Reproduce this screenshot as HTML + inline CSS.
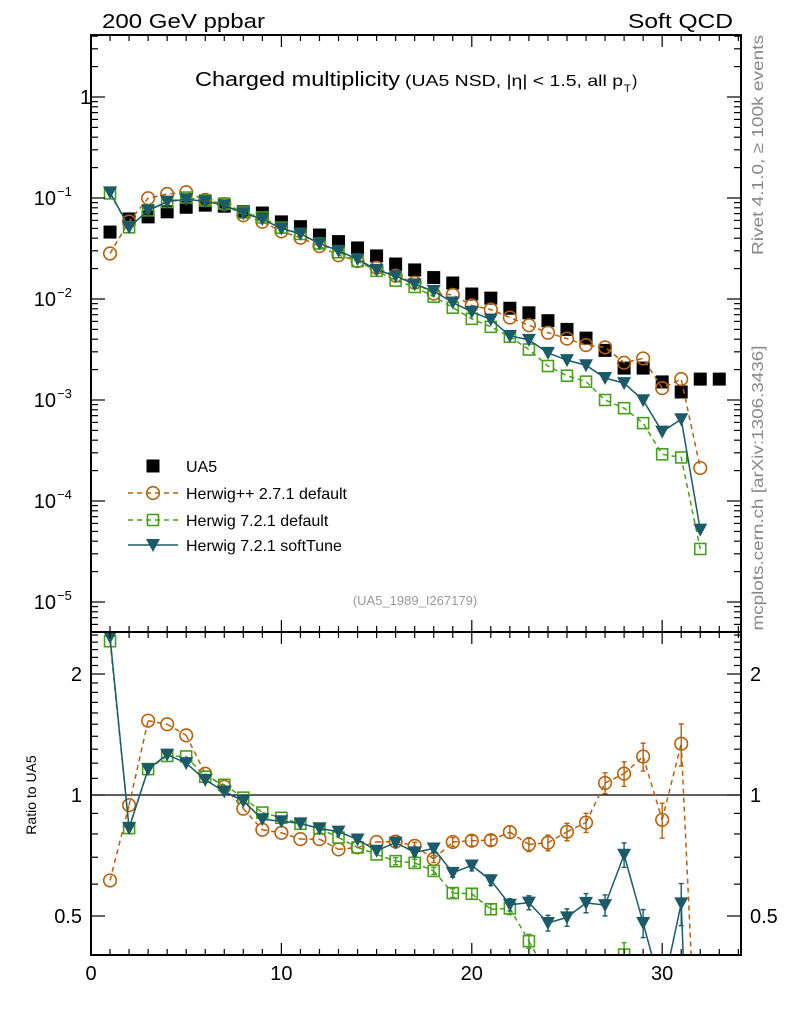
<!DOCTYPE html>
<html><head><meta charset="utf-8"><style>
html,body{margin:0;padding:0;background:#fff;width:786px;height:1024px;overflow:hidden;}
svg{display:block;font-family:"Liberation Sans",sans-serif;}
</style></head><body>
<svg id="chart" width="786" height="1024" viewBox="0 0 786 1024" xmlns="http://www.w3.org/2000/svg">
<defs>
<clipPath id="cm"><rect x="91" y="35" width="650" height="597"/></clipPath>
<clipPath id="cr"><rect x="91" y="632" width="650" height="323"/></clipPath>
</defs>
<text x="102" y="28" font-size="20" textLength="163" lengthAdjust="spacingAndGlyphs">200 GeV ppbar</text>
<text x="733" y="28" font-size="20" text-anchor="end" textLength="105" lengthAdjust="spacingAndGlyphs">Soft QCD</text>
<text x="195" y="86" font-size="20" textLength="205" lengthAdjust="spacingAndGlyphs">Charged multiplicity</text>
<g font-size="16">
<text x="405" y="86" textLength="218" lengthAdjust="spacingAndGlyphs">(UA5 NSD, |η| &lt; 1.5, all p</text>
<text x="624" y="92" font-size="11">T</text>
<text x="632" y="86">)</text>
</g>
<text transform="translate(763,145) rotate(-90)" font-size="16" fill="#888" text-anchor="middle" textLength="220" lengthAdjust="spacingAndGlyphs">Rivet 4.1.0, ≥ 100k events</text>
<text transform="translate(763,488) rotate(-90)" font-size="16" fill="#888" text-anchor="middle" textLength="285" lengthAdjust="spacingAndGlyphs">mcplots.cern.ch [arXiv:1306.3436]</text>
<text x="415" y="605" font-size="13" fill="#999" text-anchor="middle">(UA5_1989_I267179)</text>
<text transform="translate(36,795) rotate(-90)" font-size="14" text-anchor="middle">Ratio to UA5</text>
<g id="main"></g>
<g id="ratio"></g>
<g id="axes"></g>
<g id="legend"></g>
</svg>
<script>
const nch = [1,2,3,4,5,6,7,8,9,10,11,12,13,14,15,16,17,18,19,20,21,22,23,24,25,26,27,28,29,30,31,32,33];
const ua5 = [0.046,0.062,0.065,0.073,0.081,0.085,0.083,0.073,0.071,0.058,0.052,0.043,0.037,0.032,0.0267,0.0222,0.0194,0.0163,0.0144,0.0112,0.0102,0.0081,0.0073,0.0061,0.0050,0.0041,0.0031,0.00207,0.00207,0.00151,0.0012,0.00161,0.00161];
const hwpp = [0.0282,0.0585,0.0995,0.1095,0.114,0.096,0.087,0.0675,0.0582,0.0467,0.0404,0.0334,0.0271,0.0237,0.0204,0.0170,0.0145,0.0113,0.0110,0.00862,0.00787,0.00655,0.0055,0.00464,0.00405,0.0035,0.00332,0.00234,0.00258,0.00131,0.00161,0.000212];
const hw7def = [0.111,0.0513,0.0754,0.0913,0.101,0.0944,0.088,0.0719,0.0642,0.0509,0.0441,0.0355,0.029,0.0237,0.019,0.0152,0.01315,0.01055,0.00821,0.00636,0.0053,0.00423,0.00316,0.00217,0.00174,0.00152,0.0010,0.00083,0.00059,0.00029,0.00027,0.0000335];
const hw7soft = [0.1136,0.0513,0.0754,0.092,0.0972,0.0927,0.0847,0.0705,0.0618,0.0499,0.0442,0.0355,0.030,0.0248,0.0194,0.0169,0.01397,0.012,0.00922,0.00748,0.00626,0.00432,0.00394,0.00293,0.00248,0.00221,0.00165,0.00147,0.000994,0.000486,0.000645,0.000052];
const relErr = [0.005,0.005,0.005,0.005,0.005,0.005,0.005,0.005,0.01,0.01,0.01,0.01,0.01,0.015,0.015,0.02,0.02,0.02,0.025,0.03,0.03,0.035,0.04,0.045,0.05,0.055,0.06,0.07,0.08,0.1,0.12,0.15];
const xTicks = [0,10,20,30];
const mainTicks = [{v:1,l:"1"},{v:0.1,l:"10",e:"−1"},{v:0.01,l:"10",e:"−2"},{v:0.001,l:"10",e:"−3"},{v:0.0001,l:"10",e:"−4"},{v:0.00001,l:"10",e:"−5"}];
const ratioTicks = [{v:2,l:"2"},{v:1,l:"1"},{v:0.5,l:"0.5"}];

const NS="http://www.w3.org/2000/svg";
const X0=91,X1=741,XMAX=34.14;
const sx=v=>X0+(X1-X0)*v/XMAX;
const sy=v=>97-101*Math.log10(v);
const sr=v=>795-121*Math.log2(v);
function mk(tag,at,parent){const e=document.createElementNS(NS,tag);for(const k in at)e.setAttribute(k,at[k]);parent.appendChild(e);return e;}
const ORG="#b5600d",GRN="#46a01a",TEAL="#1b5a68";
const gm=document.getElementById('main'),gr=document.getElementById('ratio'),ga=document.getElementById('axes'),gl=document.getElementById('legend');
const cm=mk('g',{'clip-path':'url(#cm)'},gm);
const cr=mk('g',{'clip-path':'url(#cr)'},gr);

function marker(type,x,y,parent,name){
  let e;
  if(type==='sq') e=mk('rect',{x:x-6.5,y:y-6.5,width:13,height:13,fill:'#000'},parent);
  else if(type==='circ') e=mk('circle',{cx:x,cy:y,r:6.3,fill:'none',stroke:ORG,'stroke-width':1.6},parent);
  else if(type==='osq') e=mk('rect',{x:x-5.5,y:y-5.5,width:11,height:11,fill:'none',stroke:GRN,'stroke-width':1.6},parent);
  else e=mk('path',{d:`M${x-7},${y-6}L${x+7},${y-6}L${x},${y+7}Z`,fill:TEAL},parent);
  
  
  return e;
}
// clip a polyline to y range [ya,yb]; returns path string
function clipPath(P,ya,yb){
  let d='';
  for(let i=0;i<P.length-1;i++){
    let [x1,y1]=P[i],[x2,y2]=P[i+1];
    if((y1<ya&&y2<ya)||(y1>yb&&y2>yb))continue;
    const f=(y)=>x1+(x2-x1)*(y-y1)/(y2-y1);
    if(y1<ya){x1=f(ya);y1=ya;} else if(y1>yb){x1=f(yb);y1=yb;}
    if(y2<ya){x2=x1+(P[i+1][0]-P[i][0])*0;const t=(ya-P[i][1])/(P[i+1][1]-P[i][1]);x2=P[i][0]+(P[i+1][0]-P[i][0])*t;y2=ya;}
    else if(y2>yb){const t=(yb-P[i][1])/(P[i+1][1]-P[i][1]);x2=P[i][0]+(P[i+1][0]-P[i][0])*t;y2=yb;}
    d+=`M${x1.toFixed(2)},${y1.toFixed(2)}L${x2.toFixed(2)},${y2.toFixed(2)}`;
  }
  return d;
}
const series=[
 {d:hwpp,type:'circ',col:ORG,dash:'5,4',name:'herwigpp-271'},
 {d:hw7def,type:'osq',col:GRN,dash:'5,4',name:'herwig-721-default'},
 {d:hw7soft,type:'tri',col:TEAL,dash:'',name:'herwig-721-softtune'}
];
ua5.forEach((v,i)=>{marker('sq',sx(nch[i]),sy(v),cm,'ua5-point-'+nch[i]);});
series.forEach(s=>{
  const pts=s.d.map((v,i)=>sx(nch[i])+','+sy(v)).join(' ');
  const l=mk('polyline',{points:pts,fill:'none',stroke:s.col,'stroke-width':1.5,'stroke-dasharray':s.dash},cm);
  
  
  s.d.forEach((v,i)=>marker(s.type,sx(nch[i]),sy(v),cm,s.name+'-point-'+nch[i]));
});
const one=mk('line',{x1:X0,x2:X1,y1:sr(1),y2:sr(1),stroke:'#000','stroke-width':1.3},cr);


series.forEach(s=>{
  const r=s.d.map((v,i)=>v/ua5[i]);
  const P=r.map((v,i)=>[sx(nch[i]),sr(v)]);
  const l=mk('path',{d:clipPath(P,625,962),fill:'none',stroke:s.col,'stroke-width':1.5,'stroke-dasharray':s.dash},cr);
  
  
  r.forEach((v,i)=>{
    const x=sx(nch[i]),y=sr(v),e=relErr[i]||0.01;
    if(y<615||y>975)return;
    if(e>0.015){
      const y1=sr(v*(1+e)),y2=sr(v*(1-e));
      const b=mk('path',{d:`M${x},${y1}L${x},${y2}M${x-2.5},${y1}L${x+2.5},${y1}M${x-2.5},${y2}L${x+2.5},${y2}`,stroke:s.col,'stroke-width':1.4,fill:'none'},cr);
      
      
    }
    marker(s.type,x,y,cr,s.name+'-ratio-point-'+nch[i]);
  });
});
[[35,632],[632,955]].forEach((p,k)=>{
  const f=mk('rect',{x:X0,y:p[0],width:X1-X0,height:p[1]-p[0],fill:'none',stroke:'#000','stroke-width':2},ga);
  
  
});
function tick(x1,y1,x2,y2,name){const t=mk('line',{x1,y1,x2,y2,stroke:'#000','stroke-width':1.2},ga);}
for(let v=0;v<=34;v++){
  const x=sx(v),L=(v%10===0)?12:6;
  tick(x,955,x,955-L,'x-tick');tick(x,632,x,632+L,'x-tick');tick(x,35,x,35+L,'x-tick');tick(x,632,x,632-L,'x-tick');
}
xTicks.forEach(v=>{const t=mk('text',{x:sx(v),y:980,'font-size':20,'text-anchor':'middle'},ga);t.textContent=v;});
for(let d=-6;d<=0;d++){for(let m=1;m<=9;m++){const v=m*Math.pow(10,d),y=sy(v);if(y<35||y>632)continue;const L=m===1?14:7;tick(X0,y,X0+L,y,'y-tick');tick(X1,y,X1-L,y,'y-tick');}}
mainTicks.forEach(t=>{
  const y=sy(t.v);
  const tx=mk('text',{x:t.e?56:80,y:y+7,'font-size':20,'text-anchor':t.e?'end':'start'},ga);
  tx.textContent=t.l;
  
  
  if(t.e){const s=mk('text',{x:57,y:y-2,'font-size':13},ga);s.textContent=t.e;}
});
for(let m=4;m<=25;m++){const v=m/10,y=sr(v);if(y<632||y>955)continue;const L=(v===1||v===2||v===0.5)?14:7;tick(X0,y,X0+L,y,'ratio-tick');tick(X1,y,X1-L,y,'ratio-tick');}
ratioTicks.forEach(t=>{const y=sr(t.v)+7;
 const a=mk('text',{x:82,y,'font-size':20,'text-anchor':'end'},ga);a.textContent=t.l;
 const b=mk('text',{x:750,y,'font-size':20},ga);b.textContent=t.l;});
const leg=[{t:'sq',l:'UA5',y:466},{t:'circ',l:'Herwig++ 2.7.1 default',y:493,c:ORG,d:'5,4'},{t:'osq',l:'Herwig 7.2.1 default',y:520,c:GRN,d:'5,4'},{t:'tri',l:'Herwig 7.2.1 softTune',y:545,c:TEAL,d:''}];
leg.forEach(e=>{
  if(e.c){const ln=mk('line',{x1:128,x2:178,y1:e.y,y2:e.y,stroke:e.c,'stroke-width':1.5,'stroke-dasharray':e.d},gl);}
  marker(e.t,153,e.y,gl,'legend-marker');
  const tx=mk('text',{x:186,y:e.y+6,'font-size':16},gl);tx.textContent=e.l;
  
  
});
</script>
</body></html>
